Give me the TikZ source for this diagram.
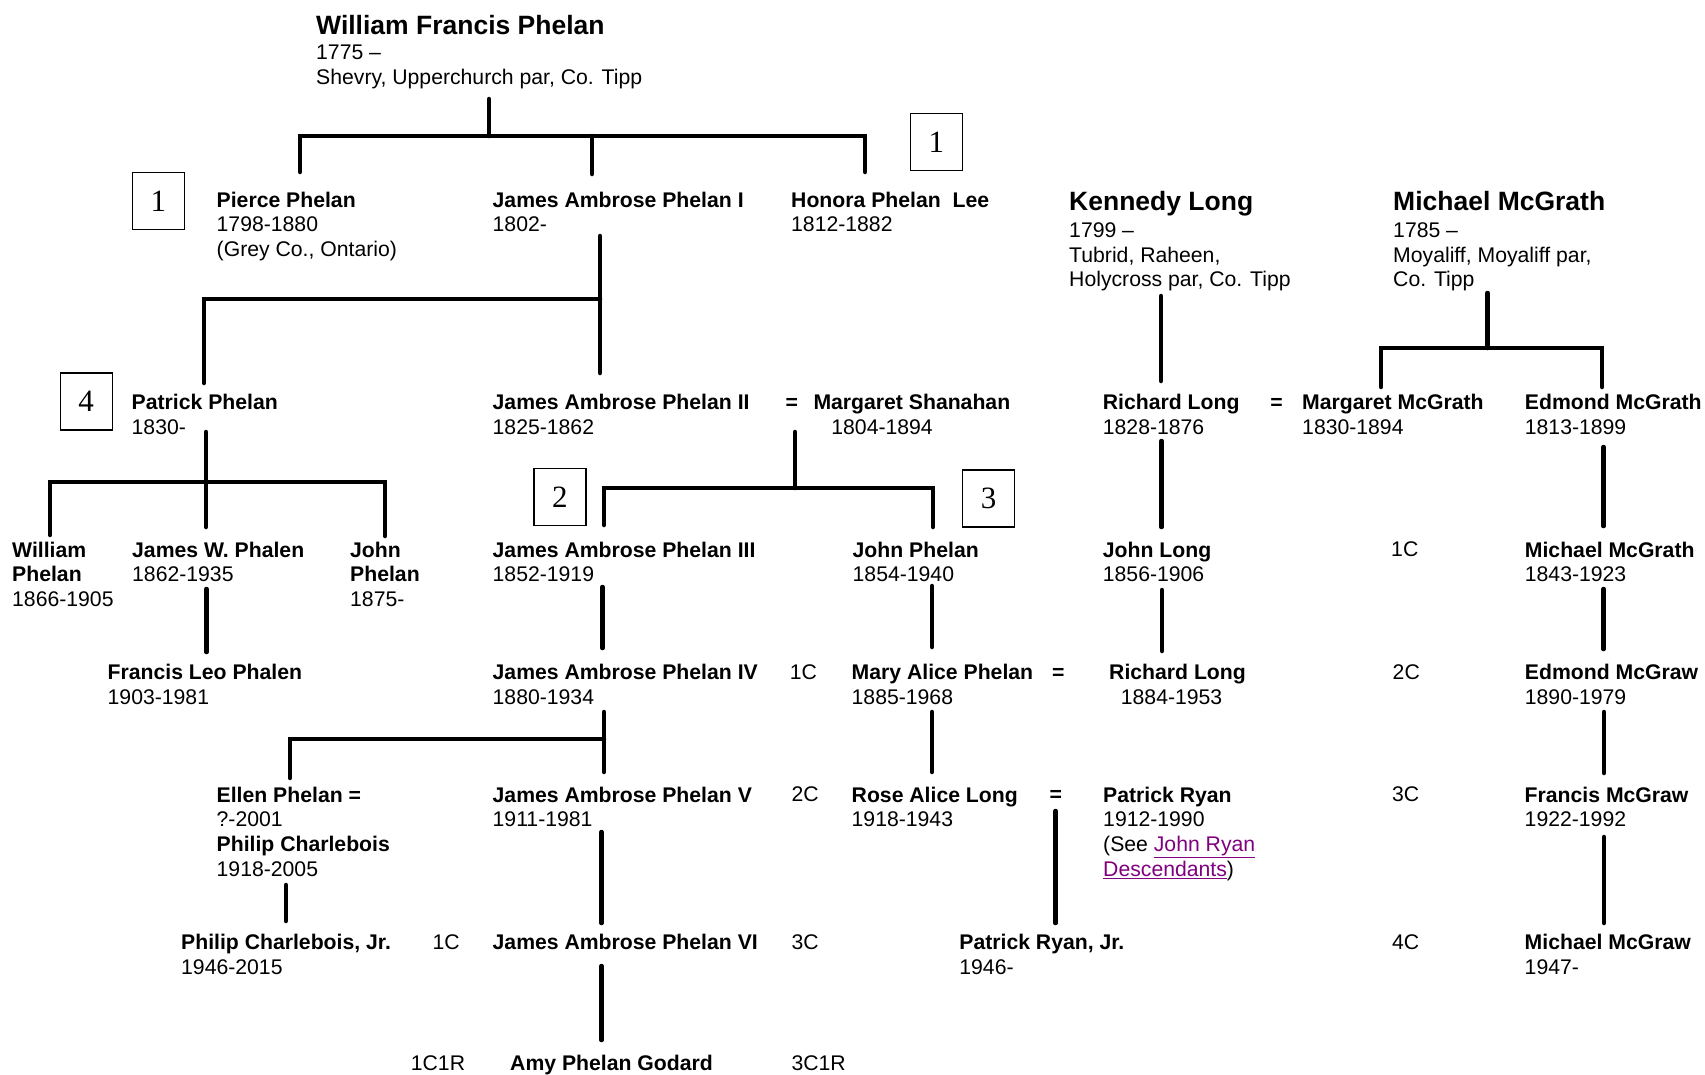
\documentclass[tikz,border=0pt]{standalone}
\usepackage{fontspec}
\setmainfont{Liberation Sans}
\newfontfamily\boxfont{Liberation Serif}
\usepackage{xcolor}
\usepackage{tikz}
\usepackage{tkz-euclide}
\definecolor{linkpurple}{RGB}{128,0,128}

\begin{document}
\begin{tikzpicture}[x=1pt,y=-1pt,
	every node/.style={inner sep=0pt,font=\fontsize{21.2}{24.7}\selectfont},
	person/.style={anchor=north west,align=left},
	single/.style={anchor=base west},
	head/.style={anchor=base west,font=\fontsize{26.5}{30}\selectfont\bfseries},
	numbox/.style={draw,line width=1.3pt,minimum width=52pt,minimum height=57pt,font=\boxfont\fontsize{31}{31}\selectfont},
	tree/.style={line width=4.5pt}]
			\path[use as bounding box,fill=white] (0,0) rectangle (1705,1074);
			\node[head] (wfp) at (316,34.3) {William Francis Phelan};
			\node[person] (wfpi) at (316,45.2) {1775 –\\Shevry, Upperchurch par, Co. Tipp};
			\node[person] (pierce) at (216.5,191.7) {\textbf{Pierce Phelan}\\1798-1880\\(Grey Co., Ontario)};
			\node[person] (japa) at (492.5,191.7) {\textbf{James Ambrose Phelan I}\\1802-};
			\node[person] (honora) at (791,191.7) {\textbf{Honora Phelan\ \ Lee}\\1812-1882};
			\node[head] (kennedy) at (1069,210.7) {Kennedy Long};
			\node[person] (kennedyi) at (1069,222.5) {1799 –\\Tubrid, Raheen,\\Holycross par, Co. Tipp};
			\node[head] (mcgrath) at (1393,210.7) {Michael McGrath};
			\node[person] (mcgrathi) at (1393,222.5) {1785 –\\Moyaliff, Moyaliff par,\\Co. Tipp};
			\node[numbox] (boxa) at (158.4,200.9) {1};
			\node[numbox] (boxb) at (936.4,142.2) {1};
			\node[numbox] (boxc) at (86.2,401.4) {4};
			\node[numbox] (boxd) at (559.9,497.2) {2};
			\node[numbox] (boxe) at (988.5,498.4) {3};
			\node[person] (patrick) at (131.5,394.3) {\textbf{Patrick Phelan}\\1830-};
			\node[person] (japb) at (492.5,394.3) {\textbf{James Ambrose Phelan II}\\1825-1862};
			\node[single] (eqa) at (785.4,409.3) {\textbf{=}};
			\node[person] (shanahan) at (813.3,394.3) {\textbf{Margaret Shanahan}\\\hspace*{17.9pt}1804-1894};
			\node[person] (richarda) at (1102.7,394.3) {\textbf{Richard Long}\\1828-1876};
			\node[single] (eqb) at (1270.2,409.3) {\textbf{=}};
			\node[person] (margaret) at (1302,394.3) {\textbf{Margaret McGrath}\\1830-1894};
			\node[person] (edmonda) at (1524.7,394.3) {\textbf{Edmond McGrath}\\1813-1899};
			\node[person] (william) at (12,541.7) {\textbf{William}\\\textbf{Phelan}\\1866-1905};
			\node[person] (jamesw) at (132,541.7) {\textbf{James W. Phalen}\\1862-1935};
			\node[person] (johna) at (350,541.7) {\textbf{John}\\\textbf{Phelan}\\1875-};
			\node[person] (japc) at (492.5,541.7) {\textbf{James Ambrose Phelan III}\\1852-1919};
			\node[person] (johnb) at (852.5,541.7) {\textbf{John Phelan}\\1854-1940};
			\node[person] (johnlong) at (1102.7,541.7) {\textbf{John Long}\\1856-1906};
			\node[single] (ca) at (1391,556.7) {1C};
			\node[person] (michaela) at (1524.7,541.7) {\textbf{Michael McGrath}\\1843-1923};
			\node[person] (francisleo) at (107.5,664) {\textbf{Francis Leo Phalen}\\1903-1981};
			\node[person] (japd) at (492.5,664) {\textbf{James Ambrose Phelan IV}\\1880-1934};
			\node[single] (cb) at (789.7,679) {1C};
			\node[person] (mary) at (851.5,664) {\textbf{Mary Alice Phelan}\\1885-1968};
			\node[single] (eqc) at (1051.8,679) {\textbf{=}};
			\node[person] (richardb) at (1109,664) {\textbf{Richard Long}\\\hspace*{11.7pt}1884-1953};
			\node[single] (cc) at (1392.5,679) {2C};
			\node[person] (edmondb) at (1524.7,664) {\textbf{Edmond McGraw}\\1890-1979};
			\node[person] (ellen) at (216.5,786.7) {\textbf{Ellen Phelan =}\\?-2001\\\textbf{Philip Charlebois}\\1918-2005};
			\node[person] (jape) at (492.5,786.7) {\textbf{James Ambrose Phelan V}\\1911-1981};
			\node[single] (cd) at (791.3,801.7) {2C};
			\node[person] (rose) at (851.5,786.7) {\textbf{Rose Alice Long}\\1918-1943};
			\node[single] (eqd) at (1049.4,801.7) {\textbf{=}};
			\node[person] (ryan) at (1103,786.7) {\textbf{Patrick Ryan}\\1912-1990\\(See \textcolor{linkpurple}{\underline{John Ryan}}\\\textcolor{linkpurple}{\underline{Descendants}})};
			\node[single] (ce) at (1391.8,801.7) {3C};
			\node[person] (francism) at (1524.5,786.7) {\textbf{Francis McGraw}\\1922-1992};
			\node[person] (philip) at (181,934.3) {\textbf{Philip Charlebois, Jr.}\\1946-2015};
			\node[single] (cf) at (432.3,949.3) {1C};
			\node[single] (japf) at (492.5,949.3) {\textbf{James Ambrose Phelan VI}};
			\node[single] (cg) at (791.3,949.3) {3C};
			\node[person] (ryanjr) at (959.2,934.3) {\textbf{Patrick Ryan, Jr.}\\1946-};
			\node[single] (ch) at (1391.8,949.3) {4C};
			\node[person] (michaelb) at (1524.5,934.3) {\textbf{Michael McGraw}\\1947-};
			\node[single] (ci) at (410.7,1070.7) {1C1R};
			\node[single] (amy) at (510,1070.7) {\textbf{Amy Phelan Godard}};
			\node[single] (cj) at (791.3,1070.7) {3C1R};
			\tkzDefPoints{489/99/W0,489/136/W1,300/172/W2,300/136/W3,865/136/W4,865/172/W5,592/136/W6,592/174/W7}
			\tkzDefPoints{600/236/J0,600/373/J1,204/383/J2,204/299/J3,600/299/J4}
			\tkzDefPoints{206/432/P0,206/527/P1,50/535/P2,50/482/P3,385/482/P4,385/536/P5,206.5/589/P6,206.5/652/P7}
			\tkzDefPoints{795/432/S0,795/488/S1,604/525/S2,604/488/S3,933/488/S4,933/527/S5,602.5/587/S6,602.5/648/S7,932/586/S8,932/647/S9}
			\tkzDefPoints{604/712/F0,604/772/F1,290/778/F2,290/739/F3,604/739/F4,286/885/F5,286/921/F6,601.5/832/F7,601.5/923/F8,601.5/966/F9,601.5/1040/F10}
			\tkzDefPoints{932/712/R0,932/772/R1,1055.5/811/R2,1055.5/923/R3}
			\tkzDefPoints{1161/296/L0,1161/381/L1,1161.5/441/L2,1161.5/527/L3,1162/590/L4,1162/651/L5}
			\tkzDefPoints{1487.5/293/M0,1487.5/348/M1,1381/387/M2,1381/348/M3,1602/348/M4,1602/387/M5,1603.5/447/M6,1603.5/526/M7,1603.5/589/M8,1603.5/649/M9,1604/712/M10,1604/773/M11,1604/837/M12,1604/923/M13}
			\tkzDrawPolySeg[tree](W2,W3,W4,W5)
			\tkzDrawPolySeg[tree](J2,J3,J4)
			\tkzDrawPolySeg[tree](P2,P3,P4,P5)
			\tkzDrawPolySeg[tree](S2,S3,S4,S5)
			\tkzDrawPolySeg[tree](F2,F3,F4)
			\tkzDrawPolySeg[tree](M2,M3,M4,M5)
			\tkzDrawSegments[tree](W0,W1 W6,W7 J0,J1 P0,P1 P6,P7 S0,S1 S6,S7 S8,S9)
			\tkzDrawSegments[tree](F0,F1 F5,F6 F7,F8 F9,F10 R0,R1 R2,R3)
			\tkzDrawSegments[tree](L0,L1 L2,L3 L4,L5 M0,M1 M6,M7 M8,M9 M10,M11 M12,M13)
		\end{tikzpicture}
\end{document}
